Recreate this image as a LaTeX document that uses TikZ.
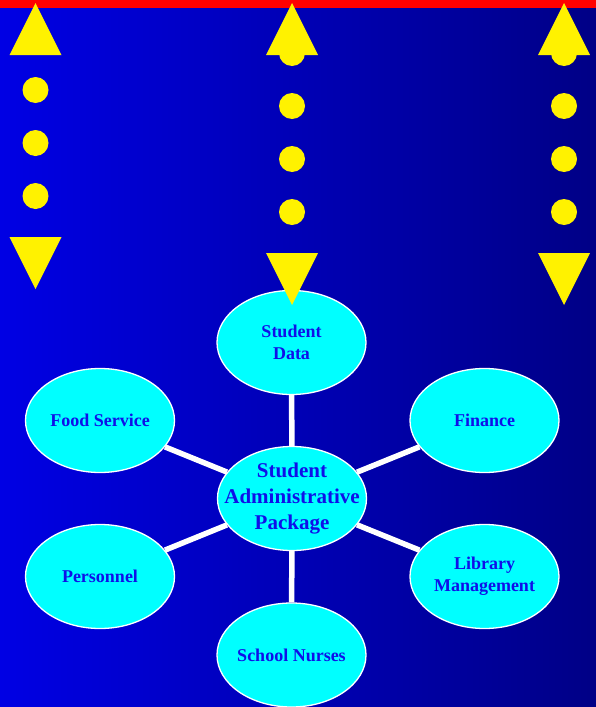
\documentclass[tikz,border=0pt]{standalone}
\usepackage{fontspec}
\setmainfont{Liberation Serif}
\usetikzlibrary{shapes.geometric}
\definecolor{bgleft}{RGB}{0,0,228}
\definecolor{bgright}{RGB}{0,0,134}
\definecolor{labelblue}{RGB}{16,16,232}
\definecolor{bubblecyan}{RGB}{0,255,255}
\pgfdeclarelayer{backdrop}
\pgfdeclarelayer{links}
\pgfsetlayers{backdrop,links,main}
\begin{document}
\begin{tikzpicture}[x=1pt,y=-1pt,
  bubble/.style={ellipse,draw=white,line width=1.3pt,fill=bubblecyan,
    minimum width=149pt,minimum height=104pt,inner xsep=-18pt,inner ysep=0pt,
    text=labelblue,align=center,font=\bfseries\fontsize{18}{22}\selectfont},
  hub/.style={bubble,font=\bfseries\fontsize{21}{26}\selectfont},
  spoke/.style={white,line width=5.5pt},
  marker/.style={fill=yellow}]
\useasboundingbox (0,0) rectangle (596,707);
\begin{pgfonlayer}{backdrop}
\shade [left color=bgleft,right color=bgright] (0,0) rectangle (596,707);
\fill [red] (0,0) rectangle (596,8);
\end{pgfonlayer}
% the package and the parts round it
\node [hub] (pkg) at (292,498.5) {Student\\Administrative\\Package};
\node [bubble] (data) at (291.5,342.5) {Student\\Data};
\node [bubble] (food) at (100,420.5) {Food Service};
\node [bubble] (fin) at (484.5,420.5) {Finance};
\node [bubble] (pers) at (100,576.5) {Personnel};
\node [bubble] (lib) at (484.5,576.5) {Library\\Management};
\node [bubble] (nurse) at (291.5,655) {School Nurses};
\begin{pgfonlayer}{links}
\foreach \n in {data,food,fin,pers,lib,nurse}
  \draw [spoke] (pkg) -- (\n);
\end{pgfonlayer}
% dotted double arrows
\foreach \x/\first/\k/\bot in {35.5/90/3/237, 292/53/4/253, 564/53/4/253} {
  \foreach \i in {1,...,\k}
    \fill [marker] (\x,\first+53*\i-53) circle (13);
  \fill [marker] (\x,3) -- (\x-26,55) -- (\x+26,55) -- cycle;
  \fill [marker] (\x-26,\bot) -- (\x+26,\bot) -- (\x,\bot+52) -- cycle;
}
\end{tikzpicture}
\end{document}
